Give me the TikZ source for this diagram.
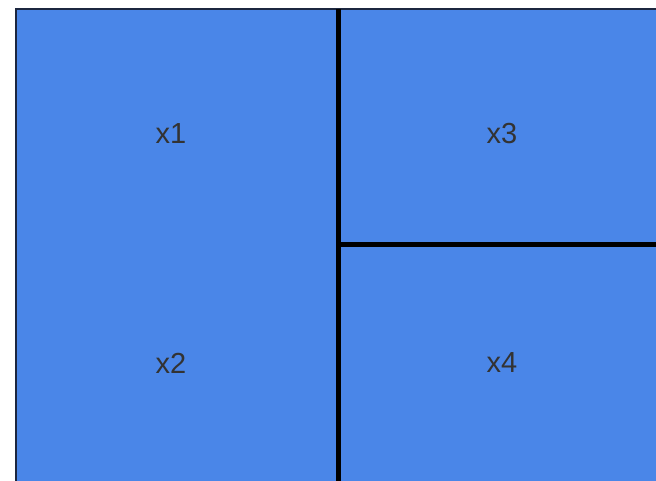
\documentclass[tikz,border=0pt]{standalone}
\usepackage{fontspec}
\setmainfont{Liberation Sans}
\definecolor{cellblue}{HTML}{4A86E8}
\definecolor{edgenavy}{HTML}{1C2740}
\begin{document}
\begin{tikzpicture}[x=1pt,y=-1pt,
  lbl/.style={font=\fontsize{29}{34}\selectfont, text=black!80},
  divider/.style={line width=5pt, draw=black}]
\useasboundingbox (0,0) rectangle (656,481);
\begin{scope}
\clip (0,0) rectangle (656,481);
\draw[fill=cellblue, draw=edgenavy, line width=1.5pt] (16,9) rectangle (670,495);
\coordinate (vt) at (338,9);
\coordinate (vb) at (338,490);
\coordinate (hl) at (338,245);
\coordinate (hr) at (665,245);
\draw[divider] (vt) -- (vb);
\draw[divider] (hl) -- (hr);
\end{scope}
\node[lbl] (x1) at (171,134) {x1};
\node[lbl] (x2) at (171,363) {x2};
\node[lbl] (x3) at (502,134) {x3};
\node[lbl] (x4) at (502,363) {x4};
\end{tikzpicture}
\end{document}
